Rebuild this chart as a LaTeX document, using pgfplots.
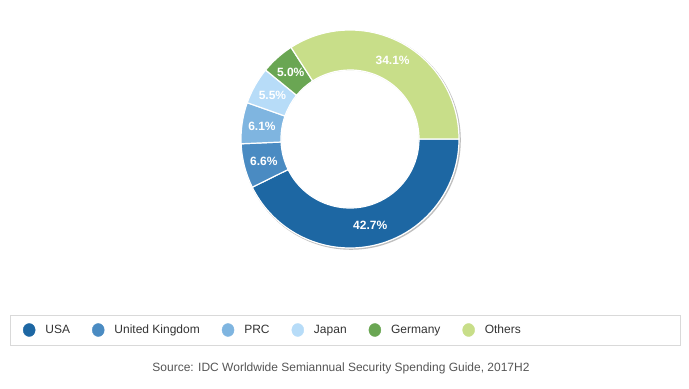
\documentclass[border=0pt]{standalone}
\usepackage{pgfplots}
\pgfplotsset{compat=1.18}
\usepackage{fontspec}
\setmainfont{Liberation Sans}
\usetikzlibrary{calc}
\definecolor{cUSA}{HTML}{1D67A3}
\definecolor{cUK}{HTML}{4A8BC2}
\definecolor{cPRC}{HTML}{7FB5E0}
\definecolor{cJapan}{HTML}{B7DCF8}
\definecolor{cGermany}{HTML}{6AA653}
\definecolor{cOthers}{HTML}{C8DE89}
\definecolor{legtext}{HTML}{333333}
\definecolor{srctext}{HTML}{555555}
\definecolor{boxgray}{HTML}{D9D9D9}
\newcommand\lfont{\fontsize{12bp}{14bp}\selectfont}
\pgfplotsset{dotlegend/.style={legend image code/.code={\fill[##1] (0bp,0bp) ellipse[x radius=6bp, y radius=6.5bp];}}}
% slice: start (%), value (%), colour
\newcommand\slice[3]{%
  \fill[#3, draw=white, line width=1.2bp]
    ($(axis cs:350,250)+({-3.6*(#1)}:109bp)$)
    arc[start angle={-3.6*(#1)}, end angle={-3.6*((#1)+(#2))}, radius=109bp]
    -- ($(axis cs:350,250)+({-3.6*((#1)+(#2))}:69bp)$)
    arc[start angle={-3.6*((#1)+(#2))}, end angle={-3.6*(#1)}, radius=69bp]
    -- cycle;
  \node[text=white, font=\bfseries\lfont]
    at ($(axis cs:350,250)+({-3.6*((#1)+0.5*(#2))}:89bp)$) {#2\%};}
\begin{document}
\begin{tikzpicture}
\useasboundingbox (0,0) rectangle (689bp,389bp);
\begin{axis}[
  at={(0,0)}, anchor=south west,
  scale only axis, width=689bp, height=389bp,
  xmin=0, xmax=689, ymin=0, ymax=389,
  hide axis, clip=false,
  legend style={at={(axis cs:23,59)}, anchor=west, draw=none, fill=none,
    inner sep=0pt, outer sep=0pt, font=\lfont, text=legtext,
    nodes={inner xsep=0pt},
    /tikz/every odd column/.append style={column sep=10bp},
    /tikz/every even column/.append style={column sep=22bp}},
  legend columns=-1,
  legend cell align=left,
]
% shadow
\draw[black!25, line width=1.6bp] (axis cs:351,249) circle[radius=109bp];
\draw[black!12, line width=1.2bp] (axis cs:350,249.5) circle[radius=69.5bp];
% slices (values in %)
\slice{0}{42.7}{cUSA}
\slice{42.7}{6.6}{cUK}
\slice{49.3}{6.1}{cPRC}
\slice{55.4}{5.5}{cJapan}
\slice{60.9}{5.0}{cGermany}
\slice{65.9}{34.1}{cOthers}
% legend
\addlegendimage{dotlegend, cUSA}
\addlegendimage{dotlegend, cUK}
\addlegendimage{dotlegend, cPRC}
\addlegendimage{dotlegend, cJapan}
\addlegendimage{dotlegend, cGermany}
\addlegendimage{dotlegend, cOthers}
\legend{USA, United Kingdom, PRC, Japan, Germany, Others}
\draw[boxgray, line width=0.8bp] (axis cs:10,44) rectangle (axis cs:680,74);
\node[text=srctext, font=\lfont] at (axis cs:341,21) {Source: IDC Worldwide Semiannual Security Spending Guide, 2017H2};
\end{axis}
\end{tikzpicture}
\end{document}
